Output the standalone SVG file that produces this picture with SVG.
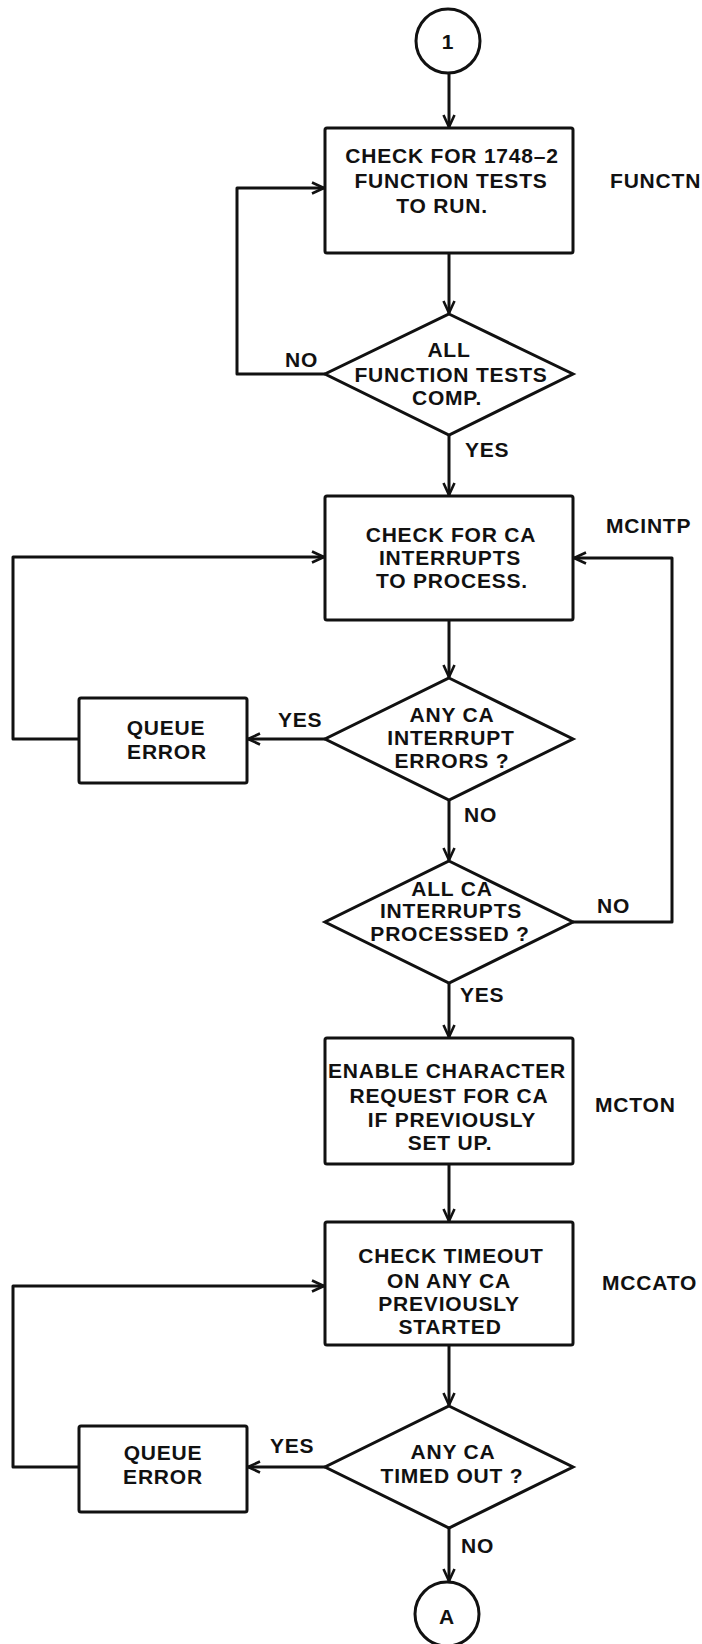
<svg xmlns="http://www.w3.org/2000/svg" width="702" height="1644" viewBox="0 0 702 1644">
<style>
.s{fill:none;stroke:#111;stroke-width:3;stroke-linejoin:round}
.n{fill:#fff;stroke:#111;stroke-width:3}
.t{font-family:"Liberation Sans",Arial,sans-serif;font-weight:bold;font-size:21px;fill:#111;letter-spacing:0.8px}
.c{text-anchor:middle}
</style>
<defs>
<marker id="ah" viewBox="0 0 14 14" refX="13" refY="7" markerWidth="14" markerHeight="14" markerUnits="userSpaceOnUse" orient="auto">
<path d="M1,1.5 L13,7 L1,12.5" fill="none" stroke="#111" stroke-width="2.6" stroke-linejoin="miter"/>
</marker>
</defs>
<g id="connectors" class="s" marker-end="url(#ah)">
<path d="M449,73 V127"/>
<path d="M449,253 V313"/>
<path d="M325,374 H237 V188 H324"/>
<path d="M449,435 V495"/>
<path d="M449,620 V677"/>
<path d="M325,739 H248"/>
<path d="M79,739 H13 V557 H324"/>
<path d="M449,800 V860"/>
<path d="M573,922 H672 V558 H574"/>
<path d="M449,983 V1037"/>
<path d="M449,1164 V1221"/>
<path d="M449,1345 V1405"/>
<path d="M325,1467 H248"/>
<path d="M79,1467 H13 V1286 H324"/>
<path d="M449,1528 V1581"/>
</g>
<g id="start">
<circle class="n" cx="448" cy="41" r="32"/>
<text class="t c" x="448" y="49">1</text>
</g>
<g id="functn">
<rect class="n" x="325" y="128" width="248" height="125" rx="2"/>
<text class="t c" x="452" y="163">CHECK FOR 1748–2</text>
<text class="t c" x="451" y="188">FUNCTION TESTS</text>
<text class="t c" x="442" y="213">TO RUN.</text>
<text class="t" x="610" y="188">FUNCTN</text>
</g>
<g id="d1">
<polygon class="n" points="449,314 573,374 449,435 325,374"/>
<text class="t c" x="449" y="357">ALL</text>
<text class="t c" x="451" y="382">FUNCTION TESTS</text>
<text class="t c" x="447" y="405">COMP.</text>
<text class="t" x="285" y="367">NO</text>
<text class="t" x="465" y="457">YES</text>
</g>
<g id="mcintp">
<rect class="n" x="325" y="496" width="248" height="124" rx="2"/>
<text class="t c" x="451" y="542">CHECK FOR CA</text>
<text class="t c" x="450" y="565">INTERRUPTS</text>
<text class="t c" x="452" y="588">TO PROCESS.</text>
<text class="t" x="606" y="533">MCINTP</text>
</g>
<g id="d2">
<polygon class="n" points="449,678 573,739 449,800 325,739"/>
<text class="t c" x="452" y="722">ANY CA</text>
<text class="t c" x="451" y="745">INTERRUPT</text>
<text class="t c" x="452" y="768">ERRORS ?</text>
<text class="t" x="278" y="727">YES</text>
<text class="t" x="464" y="822">NO</text>
</g>
<g id="qe1">
<rect class="n" x="79" y="698" width="168" height="85" rx="2"/>
<text class="t c" x="166" y="735">QUEUE</text>
<text class="t c" x="167" y="759">ERROR</text>
</g>
<g id="d3">
<polygon class="n" points="449,861 573,922 449,983 325,922"/>
<text class="t c" x="452" y="896">ALL CA</text>
<text class="t c" x="451" y="918">INTERRUPTS</text>
<text class="t c" x="450" y="941">PROCESSED ?</text>
<text class="t" x="597" y="913">NO</text>
<text class="t" x="460" y="1002">YES</text>
</g>
<g id="mcton">
<rect class="n" x="325" y="1038" width="248" height="126" rx="2"/>
<text class="t c" x="447" y="1078">ENABLE CHARACTER</text>
<text class="t c" x="449" y="1103">REQUEST FOR CA</text>
<text class="t c" x="452" y="1127">IF PREVIOUSLY</text>
<text class="t c" x="450" y="1150">SET UP.</text>
<text class="t" x="595" y="1112">MCTON</text>
</g>
<g id="mccato">
<rect class="n" x="325" y="1222" width="248" height="123" rx="2"/>
<text class="t c" x="451" y="1263">CHECK TIMEOUT</text>
<text class="t c" x="449" y="1288">ON ANY CA</text>
<text class="t c" x="449" y="1311">PREVIOUSLY</text>
<text class="t c" x="450" y="1334">STARTED</text>
<text class="t" x="602" y="1290">MCCATO</text>
</g>
<g id="d4">
<polygon class="n" points="449,1406 573,1467 449,1528 325,1467"/>
<text class="t c" x="453" y="1459">ANY CA</text>
<text class="t c" x="452" y="1483">TIMED OUT ?</text>
<text class="t" x="270" y="1453">YES</text>
<text class="t" x="461" y="1553">NO</text>
</g>
<g id="qe2">
<rect class="n" x="79" y="1426" width="168" height="86" rx="2"/>
<text class="t c" x="163" y="1460">QUEUE</text>
<text class="t c" x="163" y="1484">ERROR</text>
</g>
<g id="end">
<circle class="n" cx="447" cy="1614" r="32"/>
<text class="t c" x="447" y="1624">A</text>
</g>
</svg>
